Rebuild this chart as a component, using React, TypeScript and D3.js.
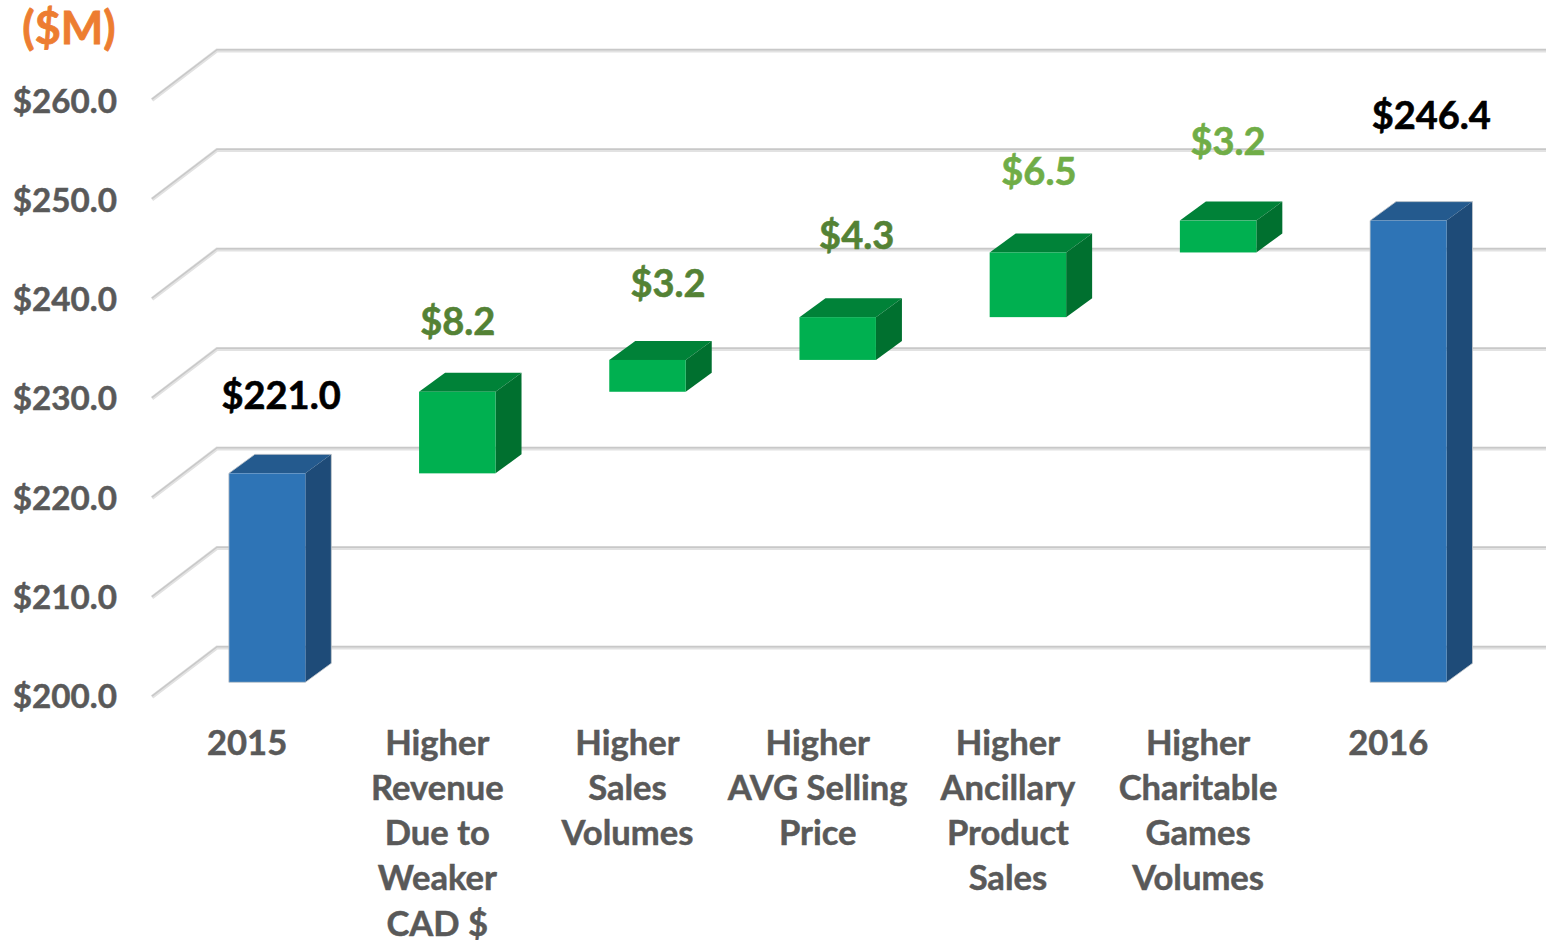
import React, { useEffect, useRef } from 'react'
import * as d3 from 'd3'

const categories = ['2015', 'Revenue', 'Sales', 'AVG', 'Ancillary', 'Charitable', '2016']
const categoryLines = [
  ['2015'],
  ['Higher', 'Revenue', 'Due to', 'Weaker', 'CAD $'],
  ['Higher', 'Sales', 'Volumes'],
  ['Higher', 'AVG Selling', 'Price'],
  ['Higher', 'Ancillary', 'Product', 'Sales'],
  ['Higher', 'Charitable', 'Games', 'Volumes'],
  ['2016']
]
const barStart = [200, 221, 229.2, 232.4, 236.7, 243.2, 200]
const barEnd = [221, 229.2, 232.4, 236.7, 243.2, 246.4, 246.4]
const barLabels = ['$221.0', '$8.2', '$3.2', '$4.3', '$6.5', '$3.2', '$246.4']
const yTicks = [200, 210, 220, 230, 240, 250, 260]

const labelColors = ['#000000', '#548235', '#548235', '#548235', '#70ad47', '#70ad47', '#000000']
const labelCenterShift = [14, 0.5, 20.5, 19, 11, 10, 23]
const labelLift = [64, 57, 63, 68.5, 67, 66, 92]

const W = 1546
const H = 940
const FONT = 'Lato, sans-serif'

export default function App() {
  const ref = useRef<SVGSVGElement | null>(null)

  useEffect(() => {
    const svg = d3.select(ref.current)
    svg.selectAll('*').remove()

    const x = d3
      .scaleBand()
      .domain(categories)
      .range([152, 1483.4])
      .paddingInner(0.598)
      .paddingOuter(0.299)
    const y = d3.scaleLinear().domain([200, 260]).range([697, 100])
    const yLabel = d3.scaleLinear().domain([200, 260]).range([708, 112.5])

    // floor offset: front edge -> back wall
    const backDx = 65
    const backDy = -49.5
    // bars sit part way into the floor
    const barDx = 20
    const barDy = -14.7
    const sideDx = 26
    const sideDy = -19

    // Gridlines along the left wall and back wall
    const grid = svg.append('g')
    const gridPath = (d: number) => {
      const yy = y(d)
      return `M${x.range()[0]},${yy}L${x.range()[0] + backDx},${yy + backDy}L${W},${yy + backDy}`
    }
    grid
      .selectAll('path.under')
      .data(yTicks)
      .enter()
      .append('path')
      .attr('d', gridPath)
      .attr('fill', 'none')
      .attr('stroke', '#e2e2e2')
      .attr('stroke-width', 4)
    grid
      .selectAll('path.over')
      .data(yTicks)
      .enter()
      .append('path')
      .attr('d', d => gridPath(d))
      .attr('transform', 'translate(0,-0.8)')
      .attr('fill', 'none')
      .attr('stroke', '#c8c8c8')
      .attr('stroke-width', 1.5)

    // Y axis labels
    svg
      .append('g')
      .selectAll('text')
      .data(yTicks)
      .enter()
      .append('text')
      .text(d => `$${d.toFixed(1)}`)
      .attr('x', 117)
      .attr('y', d => yLabel(d))
      .attr('text-anchor', 'end')
      .attr('font-family', FONT)
      .attr('font-weight', 700)
      .attr('font-size', 33.2)
      .attr('fill', '#595959')
      .attr('stroke', '#595959')
      .attr('stroke-width', 0.5)

    // Bars: front, top and side faces
    const isTotal = (i: number) => i === 0 || i === categories.length - 1
    const bars = svg
      .append('g')
      .selectAll('g')
      .data(categories)
      .enter()
      .append('g')
      .attr('stroke-width', 0.8)
      .attr('stroke-linejoin', 'round')

    const left = (c: string) => (x(c) as number) + barDx
    const right = (c: string) => left(c) + x.bandwidth()
    const top = (i: number) => y(barEnd[i]) + barDy
    const bottom = (i: number) => y(barStart[i]) + barDy

    bars
      .append('path')
      .attr('d', (c, i) =>
        `M${left(c)},${top(i)}L${left(c) + sideDx},${top(i) + sideDy}L${right(c) + sideDx},${top(i) + sideDy}L${right(c)},${top(i)}Z`
      )
      .attr('fill', (c, i) => (isTotal(i) ? '#245a8e' : '#008238'))
    bars
      .append('path')
      .attr('d', (c, i) =>
        `M${right(c)},${top(i)}L${right(c) + sideDx},${top(i) + sideDy}L${right(c) + sideDx},${bottom(i) + sideDy}L${right(c)},${bottom(i)}Z`
      )
      .attr('fill', (c, i) => (isTotal(i) ? '#1e4b78' : '#00702f'))
    bars
      .append('rect')
      .attr('x', c => left(c))
      .attr('y', (c, i) => top(i))
      .attr('width', x.bandwidth())
      .attr('height', (c, i) => bottom(i) - top(i))
      .attr('fill', (c, i) => (isTotal(i) ? '#2e74b6' : '#00b050'))

    // thin gray outline on the outer silhouette of the blue bars
    bars
      .filter((c, i) => isTotal(i))
      .append('path')
      .attr('d', c => {
        const i = categories.indexOf(c)
        return `M${left(c)},${bottom(i)}L${left(c)},${top(i)}L${left(c) + sideDx},${top(i) + sideDy}L${right(c) + sideDx},${top(i) + sideDy}L${right(c) + sideDx},${bottom(i) + sideDy}L${right(c)},${bottom(i)}Z`
      })
      .attr('fill', 'none')
      .attr('stroke', '#c4c8cc')

    // Bar value labels
    svg
      .append('g')
      .selectAll('text')
      .data(barLabels)
      .enter()
      .append('text')
      .text(d => d)
      .attr('x', (d, i) => right(categories[i]) - x.bandwidth() / 2 + labelCenterShift[i])
      .attr('y', (d, i) => top(i) - labelLift[i])
      .attr('text-anchor', 'middle')
      .attr('font-family', FONT)
      .attr('font-weight', 700)
      .attr('font-size', 38)
      .attr('fill', (d, i) => labelColors[i])
      .attr('stroke', (d, i) => labelColors[i])
      .attr('stroke-width', 0.6)

    // Category labels
    const catText = svg
      .append('g')
      .selectAll('text')
      .data(categoryLines)
      .enter()
      .append('text')
      .attr('text-anchor', 'middle')
      .attr('font-family', FONT)
      .attr('font-weight', 700)
      .attr('font-size', 34.6)
      .attr('fill', '#595959')
      .attr('stroke', '#595959')
      .attr('stroke-width', 0.5)
    catText
      .selectAll('tspan')
      .data((d, i) => d.map(t => ({ t, c: categories[i] })))
      .enter()
      .append('tspan')
      .text(d => d.t)
      .attr('x', d => (x(d.c) as number) + x.bandwidth() / 2)
      .attr('y', (d, i) => 754.5 + i * 45.3)

    // Unit title
    svg
      .append('text')
      .text('($M)')
      .attr('x', 69)
      .attr('y', 44)
      .attr('text-anchor', 'middle')
      .attr('font-family', FONT)
      .attr('font-weight', 700)
      .attr('font-size', 45)
      .attr('fill', '#ed7d31')
      .attr('stroke', '#ed7d31')
      .attr('stroke-width', 0.8)
  }, [])

  return (
    <svg
      ref={ref}
      width={W}
      height={H}
      style={{ position: 'absolute', left: 0, top: 0, display: 'block', background: '#ffffff' }}
    />
  )
}
